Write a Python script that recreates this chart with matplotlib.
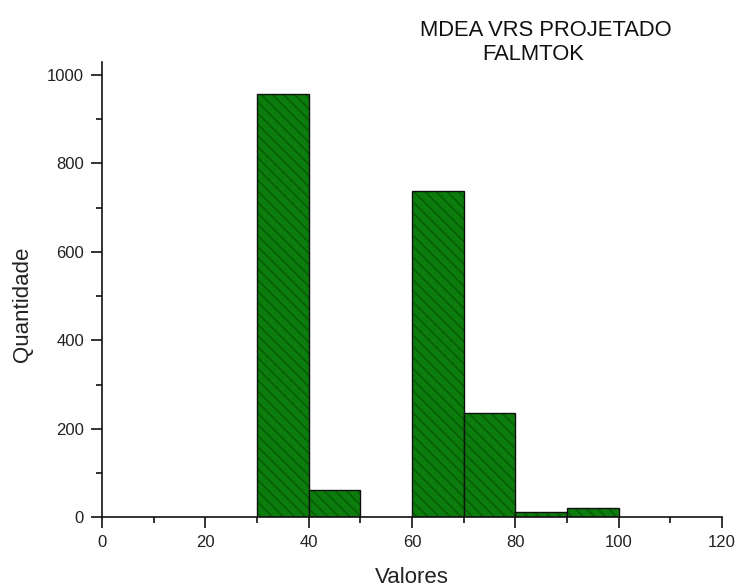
import matplotlib
matplotlib.use("Agg")
import matplotlib.pyplot as plt
from matplotlib.ticker import MultipleLocator

bin_left = [0, 10, 20, 30, 40, 50, 60, 70, 80, 90, 100, 110]
counts = [0, 0, 0, 957, 61, 0, 737, 236, 13, 22, 0, 0]
bin_width = 10

plt.rcParams['font.family'] = ['Liberation Sans', 'DejaVu Sans']
plt.rcParams['hatch.linewidth'] = 1.2

fig = plt.figure(figsize=(7.39, 5.88), dpi=100)
ax = fig.add_axes([0.138, 0.12, 0.839, 0.775])

for x, c in zip(bin_left, counts):
    if c > 0:
        # fill + hatch (hatch takes the edge colour)
        ax.bar(x, c, width=bin_width, align='edge', facecolor='#0c7c0c',
               edgecolor='#065f06', linewidth=0, hatch='\\\\\\')
        # outline
        ax.bar(x, c, width=bin_width, align='edge', facecolor='none',
               edgecolor='#111111', linewidth=1.0)

ax.set_xlim(0, 120)
ax.set_ylim(0, 1030)
ax.xaxis.set_major_locator(MultipleLocator(20))
ax.xaxis.set_minor_locator(MultipleLocator(10))
ax.yaxis.set_major_locator(MultipleLocator(200))
ax.yaxis.set_minor_locator(MultipleLocator(100))

for s in ['top', 'right']:
    ax.spines[s].set_visible(False)
for s in ['left', 'bottom']:
    ax.spines[s].set_linewidth(1.2)
    ax.spines[s].set_color('#111111')

ax.tick_params(which='major', direction='out', length=8, width=1.2, labelsize=12,
               pad=5, colors='#111111', labelcolor='#222222')
ax.tick_params(which='minor', direction='out', length=4, width=1.2, colors='#111111')

ax.set_xlabel('Valores', fontsize=16, labelpad=12, color='#222222')
ax.set_ylabel('Quantidade', fontsize=16, color='#222222')
ax.yaxis.set_label_coords(-0.111, 0.467)

fig.text(420/739, 1 - 30/588, 'MDEA VRS PROJETADO', fontsize=15.8, ha='left', va='center', color='#111111')
fig.text(482/739, 1 - 54/588, 'FALMTOK', fontsize=15.8, ha='left', va='center', color='#111111')

fig.savefig('out.png', dpi=100)
